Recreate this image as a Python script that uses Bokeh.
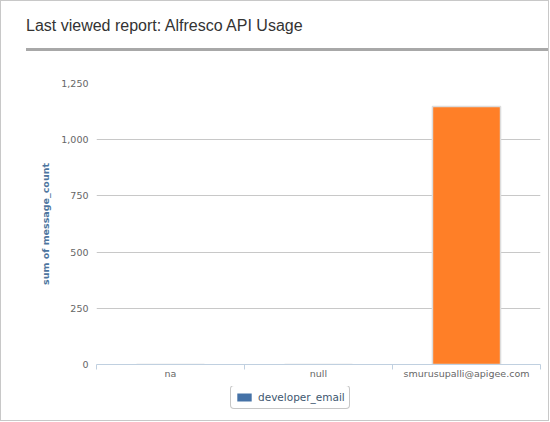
from bokeh.plotting import figure
from bokeh.models import Div, Legend, LegendItem, FixedTicker, NumeralTickFormatter, Range1d
from bokeh.layouts import column
from bokeh.embed import file_html
from bokeh.resources import INLINE

title_text = "Last viewed report: Alfresco API Usage"
categories = ["na", "null", "smurusupalli@apigee.com"]
message_count = [0, 0, 1148]
y_ticks = [0, 250, 500, 750, 1000, 1250]
series_name = "developer_email"
y_label = "sum of message_count"

n = len(categories)
x_centers = [i + 0.5 for i in range(n)]

div = Div(
    text=(
        '<div style="box-sizing:border-box;width:522px;margin-left:25px;height:50px;'
        'padding-top:16px;border-bottom:3px solid #a8a8a8;'
        "font-family:'Liberation Sans',Arial,sans-serif;font-size:16px;color:#333;"
        f'line-height:18px;white-space:nowrap;">{title_text}</div>'
    ),
    width=547, height=57, margin=0,
)

p = figure(
    width=547, height=328,
    x_range=Range1d(0, n), y_range=Range1d(0, y_ticks[-1]),
    output_backend="svg", toolbar_location=None,
    min_border_left=95, min_border_right=8, min_border_top=25, min_border_bottom=22,
)
p.outline_line_color = None
p.background_fill_color = "white"
p.border_fill_color = "white"

p.vbar(x=x_centers, top=message_count, width=0.46,
       fill_color="#FF7F27", line_color="#dcdcdc", line_width=1.5)

# y axis
p.yaxis.ticker = FixedTicker(ticks=y_ticks)
p.yaxis.formatter = NumeralTickFormatter(format="0,0")
p.yaxis.axis_line_color = None
p.yaxis.major_tick_line_color = None
p.yaxis.major_tick_out = 0
p.yaxis.major_tick_in = 0
p.yaxis.minor_tick_line_color = None
p.yaxis.minor_tick_out = 0
p.yaxis.major_label_standoff = 8
p.yaxis.major_label_text_font = "DejaVu Sans"
p.yaxis.major_label_text_font_size = "9.5px"
p.yaxis.major_label_text_color = "#666666"
p.yaxis.axis_label = y_label
p.yaxis.axis_label_text_font = "DejaVu Sans"
p.yaxis.axis_label_text_font_style = "bold"
p.yaxis.axis_label_text_font_size = "9.5px"
p.yaxis.axis_label_text_color = "#4d759e"
p.yaxis.axis_label_standoff = 7
p.ygrid.grid_line_color = "#c8c8c8"
p.ygrid.grid_line_width = 1

# x axis
p.xaxis.ticker = FixedTicker(ticks=x_centers, minor_ticks=list(range(n + 1)))
p.xaxis.major_label_overrides = {c: lab for c, lab in zip(x_centers, categories)}
p.xaxis.axis_line_color = "#c0d0e0"
p.xaxis.major_tick_line_color = None
p.xaxis.major_tick_out = 0
p.xaxis.major_tick_in = 0
p.xaxis.minor_tick_line_color = "#c0d0e0"
p.xaxis.minor_tick_in = 0
p.xaxis.minor_tick_out = 5
p.xaxis.major_label_standoff = -2
p.xaxis.major_label_text_font = "DejaVu Sans"
p.xaxis.major_label_text_font_size = "9.5px"
p.xaxis.major_label_text_color = "#666666"
p.xgrid.visible = False

# legend strip below the chart (proxy renderer kept outside its visible range)
p2 = figure(
    width=547, height=34, x_axis_type=None, y_axis_type=None,
    x_range=Range1d(0, 1), y_range=Range1d(0, 1),
    output_backend="svg", toolbar_location=None,
    min_border=0,
)
p2.outline_line_color = None
p2.grid.visible = False
p2.border_fill_color = "white"
legend_r = p2.vbar(x=[-5], top=[-5], bottom=-6, width=0.5,
                   fill_color="#4572A7", line_color=None)

legend = Legend(
    items=[LegendItem(label=series_name, renderers=[legend_r])],
    location=(134, 11), orientation="horizontal",
    border_line_color="#909090", border_line_width=1, border_radius=4,
    padding=4, margin=0, spacing=0, label_standoff=5,
    glyph_width=18, glyph_height=10, label_height=14,
    label_text_font="DejaVu Sans", label_text_font_size="10.5px",
    label_text_color="#3e576f", background_fill_color="white",
)
p2.add_layout(legend, "center")

layout = column(div, p, p2, spacing=0, styles={"border": "1px solid #c8c8c8"})

open("out.html", "w").write(file_html(layout, INLINE))
